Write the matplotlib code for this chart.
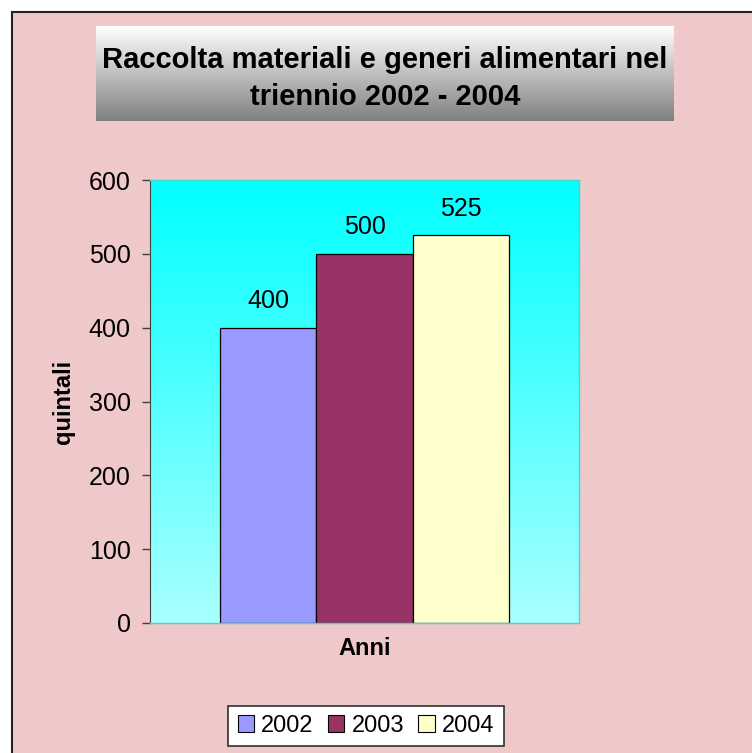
import matplotlib.pyplot as plt
import numpy as np
from matplotlib.patches import Rectangle, Patch

plt.rcParams['font.family'] = ['Liberation Sans', 'DejaVu Sans']

# dati
anni = ['2002', '2003', '2004']
quintali = [400, 500, 525]
colori = ['#9999FF', '#993366', '#FFFFCC']
yticks = [0, 100, 200, 300, 400, 500, 600]

W, H = 752, 753
fig = plt.figure(figsize=(W / 100, H / 100), dpi=100)
fig.patch.set_facecolor('white')

# sfondo rosa con bordo
bg = Rectangle((12 / W, -0.01), 1.02, 1 - 12 / H + 0.01, transform=fig.transFigure,
               facecolor='#EFC8CA', edgecolor='#2a2020', linewidth=1.5, zorder=-10)
fig.patches.append(bg)

def px(x0, y0, x1, y1):
    return [x0 / W, 1 - y1 / H, (x1 - x0) / W, (y1 - y0) / H]

# box del titolo con sfumatura
tax = fig.add_axes(px(96, 26, 674, 121))
grad = np.linspace(1.0, 0.5, 256).reshape(-1, 1)
tax.imshow(np.dstack([grad, grad, grad]), aspect='auto', extent=(0, 1, 0, 1))
tax.set_xlim(0, 1)
tax.set_ylim(0, 1)
tax.axis('off')
tax.text(0.5, 0.45, 'Raccolta materiali e generi alimentari nel\ntriennio 2002 - 2004',
         ha='center', va='center', fontsize=21, fontweight='bold', linespacing=1.40)

# grafico
ax = fig.add_axes(px(150, 180, 579, 623))
ax.set_facecolor('none')
g = np.linspace(0, 1, 256).reshape(-1, 1)
r = 0.0 + g * (170 / 255)
img = np.dstack([r, np.ones_like(g), np.ones_like(g)])
ax.imshow(img, aspect='auto', extent=(0, 1, 0, 600), zorder=0)

larg = 0.224
for i, (a, v, c) in enumerate(zip(anni, quintali, colori)):
    x = 0.5 + (i - 1) * larg
    ax.bar(x, v, width=larg, color=c, edgecolor='black', linewidth=0.9, zorder=2, label=a)
    ax.annotate(str(v), (x, v), xytext=(0, 14), textcoords='offset points',
                ha='center', va='baseline', fontsize=18)

ax.set_xlim(0, 1)
ax.set_ylim(0, 600)
ax.set_yticks(yticks)
ax.tick_params(axis='y', direction='out', length=6, width=1, color='#404040',
               labelsize=18, pad=8)
ax.set_xticks([])
for s in ['top', 'right', 'bottom']:
    ax.spines[s].set_color('#3fd8d8')
    ax.spines[s].set_linewidth(1)
ax.spines['left'].set_color('#404040')
ax.set_ylabel('quintali', fontsize=17, fontweight='bold', labelpad=10)
ax.set_xlabel('Anni', fontsize=17, fontweight='bold', labelpad=10)

handles = [Patch(facecolor=c, edgecolor='black', linewidth=0.8) for c in colori]
leg = fig.legend(handles, anni, loc='center', bbox_to_anchor=(366 / W, 1 - 726 / H), ncol=3,
                 fontsize=17, frameon=True, fancybox=False, edgecolor='#303030',
                 framealpha=1, handlelength=0.7, handleheight=0.7, handletextpad=0.3,
                 columnspacing=0.6, borderpad=0.4)
leg.get_frame().set_linewidth(1.2)
leg.get_frame().set_facecolor('white')

fig.savefig('out.png', dpi=100)
